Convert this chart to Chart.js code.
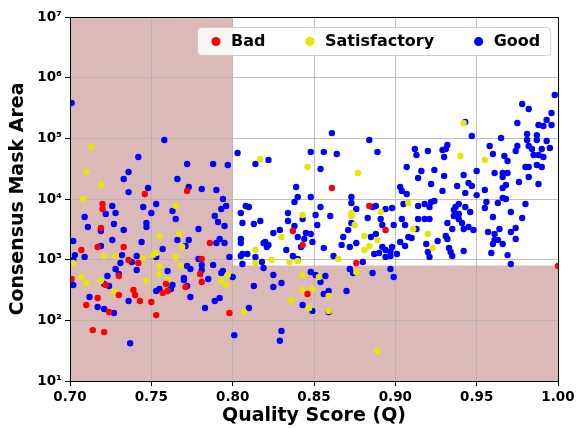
<!DOCTYPE html>
<html>
<head>
<meta charset="utf-8">
<script src="https://cdn.jsdelivr.net/npm/chart.js@4.4.1/dist/chart.umd.min.js"></script>
<style>
  html, body { margin: 0; padding: 0; background: #ffffff; }
  canvas { display: block; }
</style>
</head>
<body>
<canvas id="scatter" width="576" height="428"></canvas>
<script>
// quality score vs consensus mask area as [Q, area]
const badPoints = [
  [0.746,12100],[0.772,13600],[0.720,8270],[0.720,6840],[0.719,3330],[0.786,1880],[0.717,1620],[0.733,1620],
  [0.707,1440],[0.781,1030],[0.736,990],[0.742,880],[0.730,538],[0.780,581],[0.701,480],[0.722,382],
  [0.759,397],[0.771,354],[0.781,428],[0.760,304],[0.757,282],[0.739,316],[0.740,261],[0.730,261],
  [0.717,233],[0.743,208],[0.750,201],[0.710,179],[0.724,137],[0.753,122],[0.798,132],[0.714,69],
  [0.721,64],[0.861,15200],[0.884,7670],[0.837,2970],[0.894,3080],[0.843,1750],[0.876,880],[0.846,272],
  [1.000,787]
];

const satPoints = [
  [0.713,71900],[0.710,27900],[0.719,17000],[0.708,10000],[0.765,7670],[0.755,2450],[0.767,2650],[0.769,1620],
  [0.721,1150],[0.728,1150],[0.751,1190],[0.753,1290],[0.765,1110],[0.702,880],[0.745,1060],[0.755,787],
  [0.768,787],[0.755,581],[0.707,518],[0.760,462],[0.797,559],[0.793,462],[0.719,445],[0.747,445],
  [0.710,412],[0.796,382],[0.727,293],[0.817,45600],[0.846,33700],[0.877,26800],[0.843,5450],[0.891,6110],
  [0.908,8590],[0.873,5250],[0.873,5880],[0.875,3720],[0.830,2360],[0.881,2450],[0.889,2110],[0.884,1680],
  [0.881,1440],[0.814,1440],[0.840,950],[0.814,880],[0.824,990],[0.835,915],[0.865,1030],[0.843,559],
  [0.853,518],[0.876,626],[0.843,316],[0.849,328],[0.859,252],[0.836,216],[0.847,160],[0.859,143],
  [0.807,137],[0.889,31],[0.942,179000],[0.940,51200],[0.955,44000],[0.911,3200],[0.920,2650],[0.923,1560]
];

const goodPoints = [
  [0.701,382000],[0.758,93800],[0.742,49200],[0.803,57300],[0.736,27900],[0.733,21400],[0.772,37800],[0.788,37800],
  [0.797,36300],[0.766,21400],[0.748,15200],[0.736,13000],[0.773,15800],[0.781,14600],[0.790,14100],[0.794,10000],
  [0.726,7670],[0.745,7380],[0.753,8270],[0.763,6340],[0.796,7670],[0.793,6840],[0.709,5050],[0.722,5660],
  [0.728,5880],[0.750,5880],[0.789,5250],[0.765,4680],[0.791,4180],[0.711,3450],[0.727,3870],[0.747,4020],
  [0.747,3450],[0.795,3590],[0.719,2970],[0.733,3080],[0.779,3200],[0.805,5880],[0.766,2110],[0.773,2110],
  [0.726,2110],[0.744,1960],[0.702,2030],[0.792,2190],[0.790,1880],[0.795,1880],[0.719,1680],[0.771,1680],
  [0.757,1500],[0.703,1190],[0.709,1110],[0.732,1190],[0.741,1150],[0.753,1110],[0.779,1030],[0.798,1110],
  [0.805,1150],[0.702,990],[0.738,915],[0.731,880],[0.760,650],[0.772,787],[0.774,702],[0.781,820],
  [0.781,676],[0.788,820],[0.741,676],[0.728,702],[0.794,650],[0.793,603],[0.730,581],[0.723,538],
  [0.770,499],[0.785,480],[0.800,518],[0.702,382],[0.721,397],[0.724,368],[0.763,382],[0.770,462],
  [0.772,368],[0.755,328],[0.753,304],[0.762,328],[0.712,243],[0.774,243],[0.736,208],[0.792,233],
  [0.789,208],[0.717,166],[0.721,154],[0.727,132],[0.783,160],[0.801,57],[0.737,42],
  [0.861,122000],[0.884,93800],[0.889,59600],[0.848,59600],[0.856,59600],[0.864,55200],[0.814,37800],[0.822,44000],
  [0.854,31200],[0.907,33700],[0.839,15800],[0.840,10800],[0.838,8920],[0.848,10800],[0.903,15800],[0.907,12100],
  [0.904,13600],[0.808,7670],[0.810,7380],[0.834,5880],[0.854,7380],[0.851,5450],[0.860,5250],[0.873,10800],
  [0.873,8590],[0.876,6840],[0.886,7380],[0.888,7670],[0.894,6840],[0.898,7110],[0.905,8270],[0.883,4860],
  [0.806,4020],[0.813,3870],[0.817,4340],[0.834,4340],[0.843,4680],[0.852,3720],[0.873,4020],[0.891,4680],
  [0.892,3720],[0.899,3720],[0.904,4680],[0.906,3720],[0.838,3590],[0.829,3080],[0.825,2750],[0.871,3080],
  [0.845,2750],[0.848,2650],[0.840,2360],[0.844,2190],[0.849,1960],[0.868,2360],[0.885,2360],[0.888,2650],
  [0.805,2190],[0.805,1880],[0.819,1880],[0.820,1960],[0.822,1750],[0.821,1620],[0.842,1620],[0.833,1440],
  [0.856,1560],[0.867,1750],[0.872,1620],[0.876,1880],[0.892,1620],[0.894,1440],[0.898,1620],[0.897,1340],
  [0.906,1680],[0.908,2360],[0.806,1240],[0.809,1240],[0.814,1110],[0.837,1150],[0.840,1030],[0.818,915],
  [0.862,1150],[0.887,1240],[0.890,1290],[0.897,1150],[0.894,1110],[0.901,1240],[0.806,850],[0.880,915],
  [0.819,729],[0.825,559],[0.848,626],[0.851,559],[0.857,538],[0.872,702],[0.874,603],[0.886,603],
  [0.897,702],[0.899,518],[0.854,428],[0.830,412],[0.813,368],[0.825,354],[0.859,304],[0.856,272],
  [0.870,304],[0.843,179],[0.849,143],[0.859,137],[0.810,160],[0.830,67],[0.829,46],
  [0.998,518000],[0.978,368000],[0.982,304000],[0.996,262000],[0.943,186000],[0.975,179000],[0.993,200000],[0.988,166000],
  [0.991,160000],[0.996,166000],[0.947,109000],[0.965,101000],[0.981,118000],[0.987,113000],[0.981,93800],[0.987,93800],
  [0.993,90300],[0.975,74800],[0.958,74800],[0.982,74800],[0.984,66700],[0.974,61800],[0.990,66700],[0.995,69300],
  [0.912,66700],[0.920,61800],[0.929,64300],[0.932,77600],[0.931,66700],[0.930,49200],[0.913,53100],[0.960,55200],
  [0.967,51200],[0.969,42300],[0.985,53100],[0.988,53100],[0.991,49200],[0.987,36300],[0.980,33700],[0.982,33700],
  [0.990,33700],[0.916,28900],[0.924,30100],[0.950,28900],[0.961,26800],[0.966,26800],[0.969,26800],[0.966,23100],
  [0.914,22200],[0.930,23900],[0.942,24900],[0.982,23100],[0.922,17700],[0.938,16400],[0.945,18400],[0.947,16400],
  [0.968,17000],[0.966,15200],[0.976,19100],[0.988,17700],[0.929,13600],[0.955,14100],[0.943,12600],[0.950,11600],
  [0.956,8920],[0.963,8590],[0.966,10400],[0.968,10000],[0.980,8270],[0.914,7670],[0.918,8270],[0.922,8920],
  [0.924,9270],[0.921,7380],[0.939,8270],[0.937,7380],[0.936,6590],[0.943,7380],[0.946,6110],[0.955,7110],
  [0.936,5250],[0.939,5660],[0.939,4680],[0.960,5050],[0.971,6110],[0.978,4860],[0.914,4680],[0.918,4680],
  [0.921,4680],[0.932,4020],[0.941,4020],[0.942,3200],[0.945,3450],[0.948,3080],[0.935,3200],[0.913,3200],
  [0.910,2280],[0.903,1960],[0.931,2450],[0.932,2190],[0.926,2030],[0.919,1810],[0.920,1340],[0.921,1110],
  [0.933,1560],[0.934,1340],[0.935,1150],[0.942,1390],[0.957,2860],[0.964,3200],[0.961,2650],[0.961,2110],
  [0.963,2110],[0.960,1810],[0.966,1810],[0.959,1290],[0.971,2860],[0.974,3330],[0.974,2190],[0.969,1190],
  [0.971,850]
];

const seriesNames = ['Bad', 'Satisfactory', 'Good'];
const seriesColors = ['#ff0000', '#e6e600', '#0000ff'];

const xTicks = [0.70, 0.75, 0.80, 0.85, 0.90, 0.95, 1.00];
const yTicks = [10, 100, 1000, 10000, 100000, 1000000, 10000000];
const yTickLabels = ['10¹', '10²', '10³', '10⁴', '10⁵', '10⁶', '10⁷'];

// rejected regions
const qThreshold = 0.80;
const areaThreshold = 800;
const shadeColor = '#dcb9b9';

Chart.defaults.font.family = '"DejaVu Sans", sans-serif';
Chart.defaults.color = '#000';

function toXY(arr) {
  return arr.map(function (p) { return { x: p[0], y: p[1] }; });
}

var shading = {
  id: 'shading',
  beforeDraw: function (chart) {
    var ctx = chart.ctx, x = chart.scales.x, y = chart.scales.y;
    var xl = x.getPixelForValue(x.min), xm = x.getPixelForValue(qThreshold), xr = x.getPixelForValue(x.max);
    var yt = y.getPixelForValue(y.max), yb = y.getPixelForValue(y.min), ym = y.getPixelForValue(areaThreshold);
    ctx.save();
    ctx.fillStyle = shadeColor;
    ctx.fillRect(xl, yt, xm - xl, yb - yt);
    ctx.fillRect(xm, ym, xr - xm, yb - ym);
    ctx.restore();
  }
};

var frameAndLegend = {
  id: 'frameAndLegend',
  afterDraw: function (chart) {
    var ctx = chart.ctx, a = chart.chartArea;
    ctx.save();
    ctx.strokeStyle = '#000';
    ctx.lineWidth = 1;
    ctx.strokeRect(Math.round(a.left) + 0.5, Math.round(a.top) + 0.5,
      Math.round(a.right) - Math.round(a.left), Math.round(a.bottom) - Math.round(a.top));

    // legend box
    ctx.font = 'bold 16px "DejaVu Sans"';
    var sets = chart.data.datasets;
    var widths = sets.map(function (d) { return ctx.measureText(d.label).width; });
    var pad = 10, handle = 18, gap = 6, colGap = 35.5, h = 28;
    var w = pad * 2 + sets.length * (handle + gap) + widths.reduce(function (s, v) { return s + v; }, 0) + colGap * (sets.length - 1);
    var x0 = Math.round(a.right - 8 - w), y0 = Math.round(a.top + 10);
    ctx.beginPath();
    ctx.roundRect(x0 + 0.5, y0 + 0.5, w, h, 4);
    ctx.fillStyle = 'rgba(255,255,255,0.85)';
    ctx.fill();
    ctx.strokeStyle = '#cccccc';
    ctx.stroke();
    var x = x0 + pad;
    sets.forEach(function (d, i) {
      ctx.beginPath();
      ctx.arc(x + handle / 2, y0 + h / 2 + 0.5, 4.5, 0, Math.PI * 2);
      ctx.fillStyle = d.backgroundColor;
      ctx.fill();
      ctx.fillStyle = '#000';
      ctx.textBaseline = 'middle';
      ctx.fillText(d.label, x + handle + gap, y0 + h / 2 + 1);
      x += handle + gap + widths[i] + colGap;
    });
    ctx.restore();
  }
};

function makeSet(i, pts) {
  return {
    label: seriesNames[i],
    data: toXY(pts),
    backgroundColor: seriesColors[i],
    borderWidth: 0,
    pointRadius: 3.2,
    pointHoverRadius: 3.2,
    clip: 0
  };
}

new Chart(document.getElementById('scatter'), {
  type: 'scatter',
  data: {
    datasets: [makeSet(0, badPoints), makeSet(1, satPoints), makeSet(2, goodPoints)]
  },
  options: {
    responsive: false,
    animation: false,
    devicePixelRatio: 1,
    layout: { padding: { left: 0, right: 18, top: 17, bottom: 0 } },
    plugins: { legend: { display: false }, tooltip: { enabled: false } },
    scales: {
      x: {
        type: 'linear',
        min: 0.70,
        max: 1.00,
        afterBuildTicks: function (axis) { axis.ticks = xTicks.map(function (v) { return { value: v }; }); },
        afterFit: function (axis) { axis.height = 47; axis.paddingLeft = 0; axis.paddingRight = 0; },
        ticks: {
          callback: function (v) { return Number(v).toFixed(2); },
          font: { size: 13.5, weight: 'bold' },
          color: '#000',
          padding: 3,
          maxRotation: 0
        },
        grid: { color: '#b0b0b0', lineWidth: 0.8, tickColor: '#000', tickLength: 5, tickWidth: 1 },
        border: { display: true, color: '#000', width: 1 },
        title: {
          display: true,
          text: 'Quality Score (Q)',
          font: { size: 19, weight: 'bold' },
          color: '#000',
          padding: { top: 0, bottom: 1 }
        }
      },
      y: {
        type: 'logarithmic',
        min: 10,
        max: 10000000,
        afterBuildTicks: function (axis) { axis.ticks = yTicks.map(function (v) { return { value: v }; }); },
        afterFit: function (axis) { axis.width = 70; axis.paddingTop = 0; axis.paddingBottom = 0; },
        ticks: {
          callback: function (v) { return yTickLabels[yTicks.indexOf(v)]; },
          font: { size: 13.5, weight: 'bold' },
          color: '#000',
          padding: 3
        },
        grid: { color: '#b0b0b0', lineWidth: 0.8, tickColor: '#000', tickLength: 5, tickWidth: 1 },
        border: { display: true, color: '#000', width: 1 },
        title: {
          display: true,
          text: 'Consensus Mask Area',
          font: { size: 19, weight: 'bold' },
          color: '#000',
          padding: { top: 7, bottom: 0 }
        }
      }
    }
  },
  plugins: [shading, frameAndLegend]
});
</script>
</body>
</html>
